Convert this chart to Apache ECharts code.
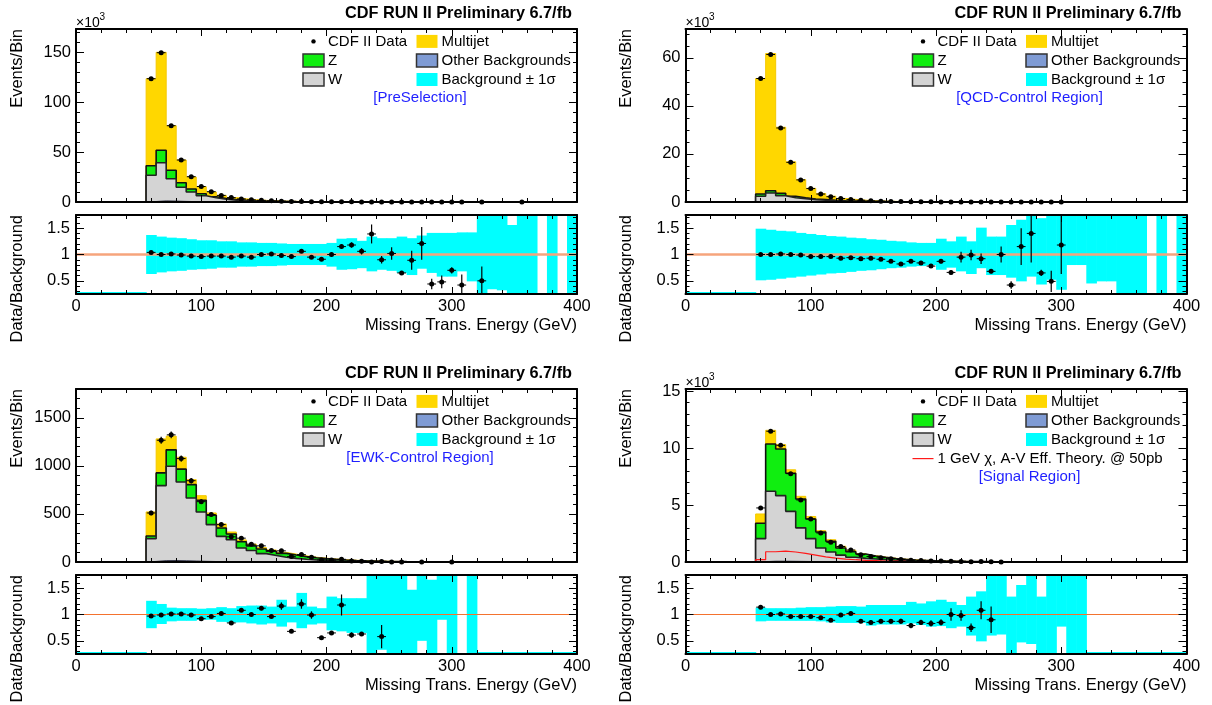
<!DOCTYPE html>
<html>
<head>
<meta charset="utf-8">
<script src="https://cdn.jsdelivr.net/npm/echarts@6/dist/echarts.min.js"></script>
<style>
html, body { margin: 0; padding: 0; background: #fff; }
#chart { width: 1212px; height: 705px; }
</style>
</head>
<body>
<div id="chart"></div>
<script>
// bins are 8 GeV wide, the first filled bin starts at 56 GeV
const BIN = 8
const FIRST = 56

// ratio panel ticks
const ratioTicks = [0.5, 1, 1.5]
const ratioMinorTicks = [0.3, 0.4, 0.6, 0.7, 0.8, 0.9, 1.1, 1.2, 1.3, 1.4, 1.6, 1.7]

// ---- PreSelection (x10^3) : stack tops
const preTotal = [123.3, 149.7, 76.3, 42.0, 25.0, 15.3, 10.0, 6.6, 4.5, 3.2, 2.3, 1.65, 1.2, 0.88, 0.65, 0.48, 0.36, 0.27, 0.2, 0.15, 0.11, 0.085, 0.065, 0.05, 0.04, 0.03]
const preZ = [36.3, 51.7, 31.7, 19.3, 13.0, 8.3, 5.3, 3.5, 2.4, 1.7, 1.2, 0.85, 0.62, 0.46, 0.34, 0.25, 0.19, 0.14, 0.1, 0.08, 0.06, 0.045, 0.035, 0.027, 0.021, 0.016]
const preW = [26.7, 39.3, 23.3, 14.7, 10.0, 6.3, 4.3, 2.8, 1.9, 1.35, 0.95, 0.68, 0.5, 0.37, 0.27, 0.2, 0.15, 0.11, 0.08, 0.06, 0.045, 0.034, 0.026, 0.02, 0.015, 0.011]
const preOther = [0.5, 1.1, 0.9, 0.6, 0.4, 0.25, 0.17, 0.12, 0.08, 0.06, 0.04, 0.03]
const preData = [123.3, 149.3, 76.3, 42.0, 25.3, 15.5, 10.3, 6.6, 4.4, 3.1, 2.2, 1.65, 1.2, 0.86, 0.62, 0.51, 0.34, 0.25, 0.2, 0.17, 0.13, 0.09, 0.09, 0.045, 0.04, 0.02, 0.027, 0.036, 0.006, 0.005, 0.005, 0.002, null, 0.001, null, null, null, 0.001]
const preRatio = [1.04, 1.0, 1.01, 0.99, 0.97, 0.96, 0.97, 0.97, 0.95, 0.97, 0.95, 1.0, 1.01, 0.98, 0.96, 1.06, 0.95, 0.91, 1.0, 1.15, 1.18, 1.06, 1.39, 0.9, 1.02, 0.65, 0.89, 1.21, 0.44, 0.48, 0.7, 0.42, null, 0.5]
const preRatioErr = [0.01, 0.01, 0.01, 0.01, 0.01, 0.01, 0.01, 0.01, 0.01, 0.015, 0.02, 0.02, 0.02, 0.025, 0.03, 0.03, 0.03, 0.035, 0.04, 0.045, 0.05, 0.06, 0.18, 0.07, 0.12, 0.03, 0.18, 0.31, 0.1, 0.12, 0.06, 0.2, null, 0.27]
const preBandHi = [1.37, 1.34, 1.32, 1.31, 1.29, 1.27, 1.27, 1.25, 1.25, 1.23, 1.23, 1.22, 1.22, 1.21, 1.2, 1.2, 1.2, 1.2, 1.22, 1.3, 1.31, 1.26, 1.34, 1.31, 1.31, 1.34, 1.31, 1.36, 1.41, 1.41, 1.41, 1.42, 1.42, 1.8, 1.8, 1.8, 1.56, 1.8, 1.8, null, 1.8, null, 1.8]
const preBandLo = [0.63, 0.66, 0.68, 0.69, 0.71, 0.72, 0.73, 0.75, 0.75, 0.77, 0.77, 0.78, 0.78, 0.79, 0.8, 0.8, 0.8, 0.8, 0.77, 0.71, 0.72, 0.74, 0.68, 0.71, 0.69, 0.65, 0.61, 0.73, 0.65, 0.58, 0.58, 0.68, 0.49, 0, 0.34, 0.32, 0, 0, 0, null, 0, null, 0]

// ---- QCD control region (x10^3)
const qcdTotal = [51.4, 61.8, 31.1, 16.7, 9.3, 5.7, 3.5, 2.4, 1.5, 1.1, 0.75, 0.52, 0.37, 0.26, 0.19, 0.14, 0.1, 0.075, 0.055, 0.04, 0.03, 0.022, 0.016, 0.012]
const qcdZ = [3.3, 4.7, 3.6, 2.4, 1.8, 1.25, 1.0, 0.7, 0.5, 0.35, 0.26, 0.19, 0.14, 0.1, 0.075, 0.055, 0.04, 0.03, 0.022, 0.016, 0.012, 0.009, 0.007, 0.005]
const qcdW = [2.4, 3.75, 2.6, 1.8, 1.4, 1.0, 0.7, 0.5, 0.35, 0.25, 0.19, 0.14, 0.1, 0.075, 0.055, 0.04, 0.03, 0.022, 0.016, 0.012, 0.009, 0.007, 0.005, 0.004]
const qcdOther = [0.1, 0.2, 0.15, 0.1, 0.07, 0.05, 0.03, 0.02]
const qcdData = [51.4, 61.4, 30.8, 16.5, 9.2, 5.6, 3.3, 2.2, 1.45, 1.0, 0.72, 0.48, 0.34, 0.23, 0.16, 0.12, 0.085, 0.06, 0.04, 0.035, 0.02, 0.021, 0.016, 0.011, 0.008, 0.004, 0.005, 0.005, 0.002, 0.001, 0.002]
const qcdRatio = [1.0, 1.0, 1.01, 1.0, 0.99, 0.96, 0.96, 0.96, 0.93, 0.94, 0.92, 0.93, 0.91, 0.87, 0.82, 0.87, 0.84, 0.78, 0.87, 0.66, 0.95, 0.99, 0.92, 0.68, 1.0, 0.42, 1.15, 1.4, 0.65, 0.49, 1.18]
const qcdRatioErr = [0.01, 0.01, 0.01, 0.01, 0.01, 0.01, 0.01, 0.01, 0.01, 0.015, 0.015, 0.02, 0.02, 0.02, 0.025, 0.03, 0.03, 0.035, 0.04, 0.04, 0.1, 0.1, 0.1, 0.04, 0.15, 0.07, 0.35, 0.55, 0.06, 0.2, 0.55]
const qcdBandHi = [1.49, 1.47, 1.45, 1.44, 1.41, 1.39, 1.37, 1.35, 1.34, 1.32, 1.31, 1.29, 1.28, 1.26, 1.25, 1.23, 1.22, 1.22, 1.3, 1.25, 1.34, 1.25, 1.51, 1.34, 1.34, 1.56, 1.66, 1.8, 1.69, 1.8, 1.8, 1.8, 1.8, 1.8, 1.8, 1.8, 1.8, 1.8, 1.8, null, 1.8, null, 1.8]
const qcdBandLo = [0.51, 0.52, 0.54, 0.56, 0.58, 0.6, 0.62, 0.64, 0.65, 0.67, 0.69, 0.7, 0.72, 0.74, 0.75, 0.77, 0.78, 0.8, 0.71, 0.75, 0.68, 0.63, 0.74, 0.61, 0.61, 0.56, 0.49, 0.58, 0.43, 0.52, 0.33, 0.8, 0.8, 0.45, 0.49, 0.49, 0, 0, 0, null, 0, null, 0]

// ---- EWK control region (events)
const ewkTotal = [521, 1281, 1309, 1090, 857, 690, 510, 396, 312, 230, 185, 150, 125, 100, 82, 64, 50, 40, 31, 24, 18, 14, 11, 8, 6, 4.5, 3.3, 2.4, 1.8, 1.3]
const ewkZ = [271, 927, 1167, 966, 805, 642, 486, 354, 291, 210, 168, 136, 112, 90, 72, 56, 44, 35, 27, 21, 16, 12, 9.5, 7, 5.2, 3.9, 2.9, 2.1, 1.6, 1.1]
const ewkW = [243, 795, 997, 833, 666, 520, 389, 267, 232, 146, 120, 87, 68, 50, 38, 29, 22, 17, 13, 10, 7.5, 5.6, 4.2, 3.1, 2.3, 1.7, 1.3, 0.9, 0.7, 0.5]
const ewkOther = [6, 14, 15, 13, 10, 7, 5, 3.5, 2.5, 1.8, 1.3, 1]
const ewkData = [510, 1267, 1323, 1076, 846, 628, 493, 389, 262, 248, 185, 168, 120, 116, 56, 77, 50, 22, 20, 28, 11, 9, 0, 4.6, 0, 0, null, 0, null, null, 0]
const ewkDataErr = [23, 36, 36, 33, 29, 25, 22, 20, 16, 16, 14, 13, 11, 11, 7.5, 9, 7, 4.7, 4.5, 5.3, 3.3, 3, 0, 2.1, 0, 0, null, 0, null, null, 0]
const ewkRatio = [0.97, 0.99, 1.01, 1.01, 0.99, 0.92, 0.96, 1.02, 0.84, 1.08, 1.0, 1.12, 0.96, 1.16, 0.68, 1.2, 0.99, 0.56, 0.65, 1.18, 0.61, 0.63, null, 0.58]
const ewkRatioErr = [0.02, 0.02, 0.02, 0.02, 0.02, 0.02, 0.02, 0.02, 0.02, 0.03, 0.03, 0.04, 0.03, 0.07, 0.02, 0.09, 0.07, 0.03, 0.03, 0.2, 0.05, 0.03, null, 0.22]
const ewkBandHi = [1.26, 1.2, 1.13, 1.12, 1.12, 1.11, 1.12, 1.14, 1.12, 1.16, 1.17, 1.17, 1.15, 1.28, 1.15, 1.41, 1.15, 1.12, 1.34, 1.31, 1.31, 1.31, 1.8, 1.8, 1.78, 1.8, 1.47, 1.8, 1.66, 1.8, 1.8, null, 1.8, 0, 0, 0, 0, 0, 0, 0, 0, 0, 0]
const ewkBandLo = [0.74, 0.82, 0.87, 0.88, 0.88, 0.9, 0.9, 0.86, 0.85, 0.85, 0.83, 0.81, 0.83, 0.77, 0.85, 0.74, 0.81, 0.83, 0.7, 0.68, 0.65, 0.65, 0, 0.33, 0, 0, 0, 0.5, 0, 0.9, 0, null, 0, 0, 0, 0, 0, 0, 0, 0, 0, 0, 0]

// ---- Signal region (x10^3)
const sigTotal = [4.22, 11.57, 10.31, 8.1, 5.77, 4.0, 2.75, 1.96, 1.38, 1.03, 0.74, 0.56, 0.43, 0.33, 0.25, 0.19, 0.15, 0.115, 0.09, 0.07, 0.054, 0.042, 0.033, 0.026, 0.02, 0.015, 0.012, 0.009, 0.007, 0.005]
const sigZ = [3.4, 10.37, 9.93, 7.8, 5.54, 3.78, 2.64, 1.82, 1.23, 0.9, 0.7, 0.53, 0.41, 0.31, 0.24, 0.18, 0.14, 0.11, 0.085, 0.066, 0.051, 0.04, 0.031, 0.024, 0.019, 0.014, 0.011, 0.008, 0.006, 0.005]
const sigW = [2.05, 6.21, 5.83, 4.45, 3.0, 2.05, 1.23, 0.88, 0.6, 0.42, 0.32, 0.26, 0.2, 0.15, 0.12, 0.09, 0.07, 0.055, 0.043, 0.033, 0.026, 0.02, 0.015, 0.012, 0.009, 0.007, 0.005, 0.004, 0.003, 0.002]
const sigOther = [0.03, 0.07, 0.07, 0.06, 0.05, 0.04, 0.03, 0.02, 0.015, 0.01]
const sigSignal = [0.2, 0.9, 0.95, 0.88, 0.75, 0.6, 0.45, 0.34, 0.26, 0.2, 0.15, 0.12, 0.09, 0.07, 0.05, 0.04, 0.03, 0.02, 0.015, 0.01]
const sigData = [4.75, 11.49, 10.25, 7.76, 5.45, 3.78, 2.55, 1.73, 1.36, 1.05, 0.64, 0.48, 0.37, 0.29, 0.22, 0.15, 0.13, 0.095, 0.077, 0.07, 0.053, 0.031, 0.036, 0.023, 0.01]
const sigDataErr = [0.07, 0.11, 0.1, 0.09, 0.07, 0.06, 0.05, 0.04, 0.04, 0.03, 0.025, 0.022, 0.02, 0.017, 0.015, 0.012, 0.011, 0.01, 0.009, 0.008, 0.007, 0.006, 0.006, 0.005, 0.003]
const sigRatio = [1.14, 1.0, 1.01, 0.96, 0.96, 0.96, 0.94, 0.89, 0.99, 1.02, 0.87, 0.85, 0.87, 0.87, 0.87, 0.79, 0.85, 0.83, 0.85, 1.0, 0.98, 0.75, 1.08, 0.9]
const sigRatioErr = [0.02, 0.01, 0.01, 0.015, 0.015, 0.02, 0.02, 0.025, 0.03, 0.03, 0.035, 0.04, 0.04, 0.045, 0.05, 0.05, 0.05, 0.06, 0.06, 0.12, 0.1, 0.08, 0.17, 0.25]
const sigBandHi = [1.13, 1.12, 1.12, 1.12, 1.13, 1.14, 1.14, 1.15, 1.16, 1.16, 1.15, 1.18, 1.18, 1.18, 1.18, 1.24, 1.21, 1.25, 1.28, 1.24, 1.18, 1.34, 1.44, 1.8, 1.8, 1.34, 1.56, 1.8, 1.34, 1.8, 1.8, 1.8, 1.8, 0, 0, 0, 0, 0, 0, 0, 0, 0, 0]
const sigBandLo = [0.87, 0.88, 0.88, 0.88, 0.88, 0.88, 0.87, 0.85, 0.84, 0.84, 0.84, 0.79, 0.81, 0.81, 0.81, 0.83, 0.8, 0.77, 0.78, 0.74, 0.77, 0.6, 0.49, 0.6, 0.62, 0, 0.47, 0.44, 0, 0, 0.77, 0, 0, 0, 0, 0, 0, 0, 0, 0, 0, 0, 0]

const C_MULTIJET = '#ffd700'
const C_Z = '#10ee10'
const C_W = '#d4d4d4'
const C_OTHER = '#7f9bd4'
const C_BAND = '#00ffff'
const FONT = '"Liberation Sans", Arial, Helvetica, sans-serif'

const panels = [
    { left: 76, dy: 0, tag: '[PreSelection]', x1000: true, ymax: 173, yint: 50, yminor: 5,
      total: preTotal, z: preZ, w: preW, other: preOther, data: preData, dataErr: null,
      ratio: preRatio, ratioErr: preRatioErr, lo: preBandLo, hi: preBandHi, unity: { color: '#f6a47c', width: 2.5 } },
    { left: 685.5, dy: 0, tag: '[QCD-Control Region]', x1000: true, ymax: 72, yint: 20, yminor: 4,
      total: qcdTotal, z: qcdZ, w: qcdW, other: qcdOther, data: qcdData, dataErr: null,
      ratio: qcdRatio, ratioErr: qcdRatioErr, lo: qcdBandLo, hi: qcdBandHi, unity: { color: '#f6a47c', width: 2.5 } },
    { left: 76, dy: 360, tag: '[EWK-Control Region]', x1000: false, ymax: 1800, yint: 500, yminor: 5,
      total: ewkTotal, z: ewkZ, w: ewkW, other: ewkOther, data: ewkData, dataErr: ewkDataErr,
      ratio: ewkRatio, ratioErr: ewkRatioErr, lo: ewkBandLo, hi: ewkBandHi, unity: { color: '#f4722e', width: 1.2 } },
    { left: 685.5, dy: 360, tag: '[Signal Region]', x1000: true, ymax: 15.2, yint: 5, yminor: 5, signal: sigSignal,
      total: sigTotal, z: sigZ, w: sigW, other: sigOther, data: sigData, dataErr: sigDataErr,
      ratio: sigRatio, ratioErr: sigRatioErr, lo: sigBandLo, hi: sigBandHi, unity: { color: '#f4722e', width: 1.2 } }
]

const WIDTH = 501
const MAIN_TOP = 29, MAIN_H = 173
const RATIO_TOP = 215, RATIO_H = 79
const RATIO_MIN = 0.25, RATIO_MAX = 1.75
const LABEL_SIZE = 16.5
const LEGEND_SIZE = 15

// histogram outline as a step line: [0,0] -> bin lows -> back down to 0
function stepData(vals, toEnd) {
    const out = [[0, 0]]
    vals.forEach(function (v, i) { out.push([FIRST + i * BIN, v]) })
    out.push([FIRST + vals.length * BIN, 0])
    if (toEnd) out.push([400, 0])
    return out
}

function histSeries(name, vals, fill, stroke, width, xi, yi, z, toEnd) {
    const s = {
        name: name, type: 'line', step: 'end', data: stepData(vals, toEnd),
        xAxisIndex: xi, yAxisIndex: yi, symbol: 'none', silent: true, z: z,
        lineStyle: { color: stroke, width: width }
    }
    if (fill) s.areaStyle = { color: fill, opacity: 1 }
    return s
}

function pointSeries(vals, errs, xi, yi) {
    const data = []
    vals.forEach(function (v, i) {
        if (v == null) return
        data.push([FIRST + i * BIN + BIN / 2, v, errs && errs[i] ? errs[i] : 0])
    })
    return {
        type: 'custom', xAxisIndex: xi, yAxisIndex: yi, z: 8, silent: true,
        data: data, encode: { x: 0, y: 1 },
        renderItem: function (params, api) {
            const cs = params.coordSys
            const x = api.value(0), y = api.value(1), e = api.value(2)
            const c = api.coord([x, y])
            const top = cs.y, bottom = cs.y + cs.height
            if (c[1] < top - 0.5 || c[1] > bottom + 0.5) return null
            const l = api.coord([x - 3.5, y]), r = api.coord([x + 3.5, y])
            const kids = [{ type: 'line', shape: { x1: l[0], y1: c[1], x2: r[0], y2: c[1] }, style: { stroke: '#000', lineWidth: 1 } }]
            if (e > 0) {
                const hi = api.coord([x, y + e]), lo = api.coord([x, y - e])
                kids.push({ type: 'line', shape: { x1: c[0], y1: Math.max(hi[1], top), x2: c[0], y2: Math.min(lo[1], bottom) }, style: { stroke: '#000', lineWidth: 1.2 } })
            }
            kids.push({ type: 'circle', shape: { cx: c[0], cy: c[1], r: 2.5 }, style: { fill: '#000' } })
            return { type: 'group', children: kids }
        }
    }
}

function bandSeries(lo, hi, xi, yi, unity) {
    const data = []
    for (let x = 0; x < FIRST; x += BIN) data.push([x, x + BIN, 0, 0])
    hi.forEach(function (h, i) {
        if (h == null) return
        const x0 = FIRST + i * BIN
        data.push([x0, x0 + BIN, lo[i], h])
    })
    return {
        type: 'custom', xAxisIndex: xi, yAxisIndex: yi, z: 3, silent: true,
        data: data, encode: { x: [0, 1], y: [2, 3] },
        renderItem: function (params, api) {
            const cs = params.coordSys
            const a = api.coord([api.value(0), api.value(3)])
            const b = api.coord([api.value(1), api.value(2)])
            let shape
            if (api.value(3) <= 0) {
                // no background in this bin: ROOT leaves a thin strip on the frame bottom
                shape = { x: a[0], y: cs.y + cs.height - 2, width: b[0] - a[0] + 0.6, height: 2 }
            } else {
                shape = echarts.graphic.clipRectByRect(
                    { x: a[0], y: a[1], width: b[0] - a[0] + 0.6, height: b[1] - a[1] },
                    { x: cs.x, y: cs.y, width: cs.width, height: cs.height })
            }
            if (!shape) return null
            return { type: 'rect', shape: shape, style: { fill: C_BAND } }
        },
        markLine: {
            silent: true, symbol: ['none', 'none'], label: { show: false },
            lineStyle: { color: unity.color, width: unity.width, type: 'solid' },
            data: [{ yAxis: 1 }]
        }
    }
}

const tickLine = { color: '#000', width: 1 }
function plainNumber(v) { return String(v) }

function xAxisPair(grid, labels) {
    const base = {
        type: 'value', gridIndex: grid, min: 0, max: 400, interval: 100, z: 10,
        axisLine: { show: true, onZero: false, lineStyle: { color: '#000', width: 2 } },
        axisTick: { show: true, inside: true, length: 7, lineStyle: tickLine },
        minorTick: { show: true, splitNumber: 5, length: 4, lineStyle: tickLine },
        splitLine: { show: false }, minorSplitLine: { show: false }
    }
    return [
        Object.assign({}, base, {
            position: 'bottom',
            axisLabel: labels ? { show: true, color: '#000', fontSize: LABEL_SIZE, fontFamily: FONT, margin: 4, formatter: plainNumber } : { show: false }
        }),
        Object.assign({}, base, { position: 'top', axisLabel: { show: false } })
    ]
}

function mainY(grid, p, side) {
    return {
        type: 'value', gridIndex: grid, position: side, min: 0, max: p.ymax, interval: p.yint, z: 10,
        axisLine: { show: true, onZero: false, lineStyle: { color: '#000', width: 2 } },
        axisTick: { show: true, inside: true, length: 8, lineStyle: tickLine },
        minorTick: { show: true, splitNumber: p.yminor, length: 4, lineStyle: tickLine },
        splitLine: { show: false }, minorSplitLine: { show: false },
        axisLabel: side === 'left'
            ? { show: true, color: '#000', fontSize: LABEL_SIZE, fontFamily: FONT, margin: 5, showMaxLabel: false, formatter: plainNumber }
            : { show: false }
    }
}

function ratioY(grid, side, minor) {
    return {
        type: 'value', gridIndex: grid, position: side, min: RATIO_MIN, max: RATIO_MAX, z: 10,
        axisLine: { show: !minor, onZero: false, lineStyle: { color: '#000', width: 2 } },
        axisTick: { show: true, inside: true, length: minor ? 4 : 8, lineStyle: tickLine,
                    customValues: minor ? ratioMinorTicks : ratioTicks },
        splitLine: { show: false },
        axisLabel: side === 'left' && !minor
            ? { show: true, color: '#000', fontSize: LABEL_SIZE, fontFamily: FONT, margin: 6, customValues: ratioTicks, formatter: plainNumber }
            : { show: false }
    }
}

function text(x, y, str, size, align, extra) {
    return Object.assign({
        type: 'text', x: x, y: y, silent: true,
        style: { text: str, font: size + 'px ' + FONT, fill: '#000', align: align, verticalAlign: 'middle',
                 textAlign: align, textVerticalAlign: 'middle' }
    }, extra || {})
}

function legendBox(x, y, fill, outline) {
    return {
        type: 'rect', silent: true, shape: { x: x, y: y - 6.5, width: 21, height: 13 },
        style: { fill: fill, stroke: outline ? '#333' : null, lineWidth: outline ? 1.5 : 0 }
    }
}

const grids = [], xAxes = [], yAxes = [], series = [], graphics = []

panels.forEach(function (p) {
    const L = p.left, R = p.left + WIDTH
    const T = MAIN_TOP + p.dy, RT = RATIO_TOP + p.dy, RB = RT + RATIO_H

    const gMain = grids.length
    grids.push({ left: L, top: T, width: WIDTH, height: MAIN_H, containLabel: false, outerBoundsMode: 'none' })
    grids.push({ left: L, top: RT, width: WIDTH, height: RATIO_H, containLabel: false, outerBoundsMode: 'none' })
    const gRatio = gMain + 1

    const xMain = xAxes.length
    xAxes.push.apply(xAxes, xAxisPair(gMain, false))
    const xRatio = xAxes.length
    xAxes.push.apply(xAxes, xAxisPair(gRatio, true))

    const yMain = yAxes.length
    yAxes.push(mainY(gMain, p, 'left'), mainY(gMain, p, 'right'))
    const yRatio = yAxes.length
    yAxes.push(ratioY(gRatio, 'left', false), ratioY(gRatio, 'left', true),
               ratioY(gRatio, 'right', false), ratioY(gRatio, 'right', true))

    // stacked backgrounds, tallest first so each level paints over the previous
    series.push(histSeries('Multijet', p.total, C_MULTIJET, '#f5c800', 1, xMain, yMain, 2))
    series.push(histSeries('Z', p.z, C_Z, '#111', 1.6, xMain, yMain, 3))
    series.push(histSeries('W', p.w, C_W, '#222', 1.6, xMain, yMain, 4))
    series.push(histSeries('Other Backgrounds', p.other, C_OTHER, '#334', 1, xMain, yMain, 5))
    if (p.signal) series.push(histSeries('Signal', p.signal, null, '#ff1a1a', 1.2, xMain, yMain, 6, true))
    series.push(pointSeries(p.data, p.dataErr, xMain, yMain))

    series.push(bandSeries(p.lo, p.hi, xRatio, yRatio, p.unity))
    series.push(pointSeries(p.ratio, p.ratioErr, xRatio, yRatio))

    // titles and axis names
    graphics.push(text(R - 5, T - 15, 'CDF RUN II Preliminary 6.7/fb', 'bold 16.3', 'right'))
    graphics.push(text(L - 59, T, 'Events/Bin', LABEL_SIZE, 'right', { rotation: Math.PI / 2 }))
    graphics.push(text(L - 59, RT, 'Data/Background', LABEL_SIZE, 'right', { rotation: Math.PI / 2 }))
    graphics.push(text(R, RB + 31, 'Missing Trans. Energy (GeV)', LABEL_SIZE, 'right'))
    if (p.x1000) {
        graphics.push(text(L, T - 6, '×10', 14, 'left'))
        graphics.push(text(L + 23.5, T - 11.5, '3', 10, 'left'))
    }

    // legend, two columns
    const c1 = R - 274, c2 = R - 160.5
    const rows = [T + 12.4, T + 31.4, T + 50.5, T + 69.6]
    graphics.push({ type: 'circle', silent: true, shape: { cx: c1 + 10.5, cy: rows[0], r: 2.2 }, style: { fill: '#000' } })
    graphics.push(text(c1 + 25, rows[0], 'CDF II Data', LEGEND_SIZE, 'left'))
    graphics.push(legendBox(c1, rows[1], C_Z, true))
    graphics.push(text(c1 + 25, rows[1], 'Z', LEGEND_SIZE, 'left'))
    graphics.push(legendBox(c1, rows[2], C_W, true))
    graphics.push(text(c1 + 25, rows[2], 'W', LEGEND_SIZE, 'left'))
    graphics.push(legendBox(c2, rows[0], C_MULTIJET, false))
    graphics.push(text(c2 + 25, rows[0], 'Multijet', LEGEND_SIZE, 'left'))
    graphics.push(legendBox(c2, rows[1], C_OTHER, true))
    graphics.push(text(c2 + 25, rows[1], 'Other Backgrounds', LEGEND_SIZE, 'left'))
    graphics.push(legendBox(c2, rows[2], C_BAND, false))
    graphics.push(text(c2 + 25, rows[2], 'Background ± 1σ', LEGEND_SIZE, 'left'))
    let tagY = T + 69
    if (p.signal) {
        graphics.push({ type: 'line', silent: true, shape: { x1: c1, y1: rows[3], x2: c1 + 21, y2: rows[3] }, style: { stroke: '#ff1a1a', lineWidth: 1.2 } })
        graphics.push(text(c1 + 25, rows[3], '1 GeV χ, A-V Eff. Theory. @ 50pb', LEGEND_SIZE, 'left'))
        tagY = T + 88
    }
    const tag = text(R - 157, tagY, p.tag, LEGEND_SIZE, 'center')
    tag.style.fill = '#1f1fff'
    graphics.push(tag)
})

const chart = echarts.init(document.getElementById('chart'), null, { renderer: 'canvas' })
chart.setOption({
    backgroundColor: '#fff',
    animation: false,
    grid: grids,
    xAxis: xAxes,
    yAxis: yAxes,
    series: series,
    graphic: graphics
})
</script>
</body>
</html>
